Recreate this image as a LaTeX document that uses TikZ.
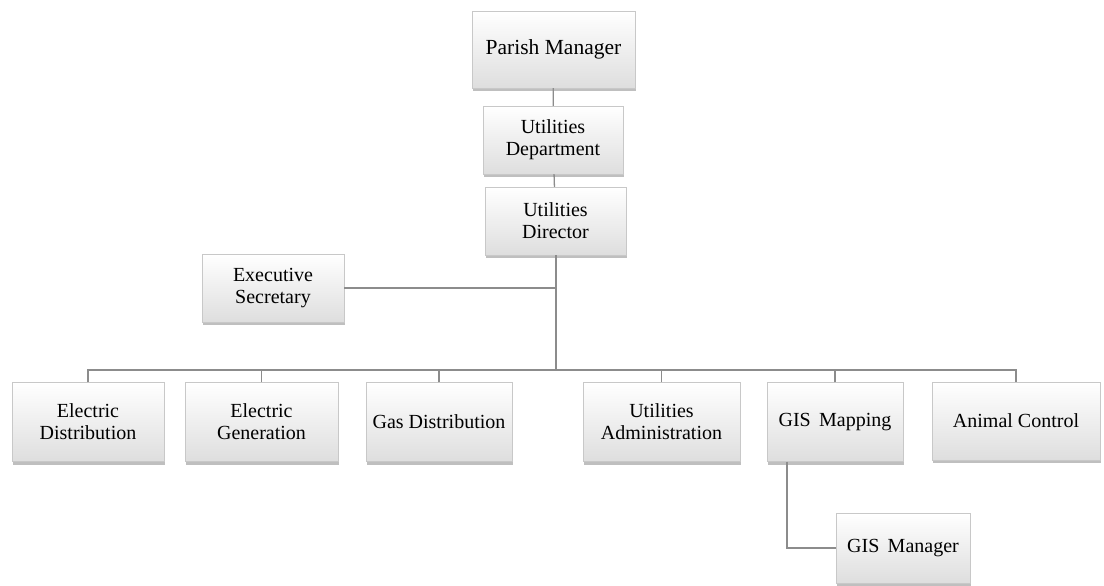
\documentclass[tikz,border=0pt]{standalone}
\usepackage{fontspec}
\setmainfont{Liberation Serif}
\usepackage{xcolor}
\usetikzlibrary{shadows, calc}
\definecolor{cEdge}{HTML}{C8C8C8}
\definecolor{cLow}{HTML}{DEDEDE}
\definecolor{cLine}{HTML}{8C8C8C}
\tikzstyle{unit}  = [rectangle, draw=cEdge, top color=white, bottom color=cLow, align=center, inner sep=2pt,
  font=\fontsize{20}{22}\selectfont, drop shadow={shadow xshift=1pt, shadow yshift=-3pt, opacity=0.5}]
\tikzstyle{link}  = [draw=cLine, line width=1.3pt]
\begin{document}
\begin{tikzpicture}[x=1pt, y=-1pt]
\useasboundingbox (0,0) rectangle (1104,586);
% top chain
\node (parish) [unit, minimum width=163pt, minimum height=77pt, font=\fontsize{21.5}{24}\selectfont] at (553.5,49.5) {Parish Manager};
\node (dept) [unit, minimum width=140pt, minimum height=68pt] at (553,140) {Utilities\\ Department};
\node (dir) [unit, minimum width=141pt, minimum height=68pt] at (555.5,221) {Utilities\\ Director};
\node (exec) [unit, minimum width=142pt, minimum height=68pt] at (273,288) {Executive\\ Secretary};
% departments
\node (eldist) [unit, minimum width=152pt, minimum height=79pt] at (88,422) {Electric\\ Distribution};
\node (elgen) [unit, minimum width=153pt, minimum height=79pt] at (261.5,422) {Electric\\ Generation};
\node (gas) [unit, minimum width=146pt, minimum height=79pt] at (439,422) {Gas Distribution};
\node (admin) [unit, minimum width=157pt, minimum height=79pt] at (661.5,422) {Utilities\\ Administration};
\node (gismap) [unit, minimum width=136pt, minimum height=79pt] at (835,422) {GIS\, Mapping};
\node (animal) [unit, minimum width=168pt, minimum height=78pt] at (1016,421) {Animal Control};
\node (gisman) [unit, minimum width=134pt, minimum height=70pt] at (903,548) {GIS\, Manager};
\coordinate (bus) at (556,370);

\draw [link] (parish) -- (dept);
\draw [link] (dept) -- (dir);
\draw [link] (dir.south -| bus) -- (bus);
\draw [link] (exec.east) -- (exec.east -| bus);
\draw [link] (eldist.north) |- (bus) -| (animal.north);
\foreach \unitname in {elgen, gas, admin, gismap}
  \draw [link] (\unitname.north) -- (\unitname.north |- bus);
\draw [link] ([xshift=-48pt]gismap.south) |- (gisman.west);
\end{tikzpicture}
\end{document}
